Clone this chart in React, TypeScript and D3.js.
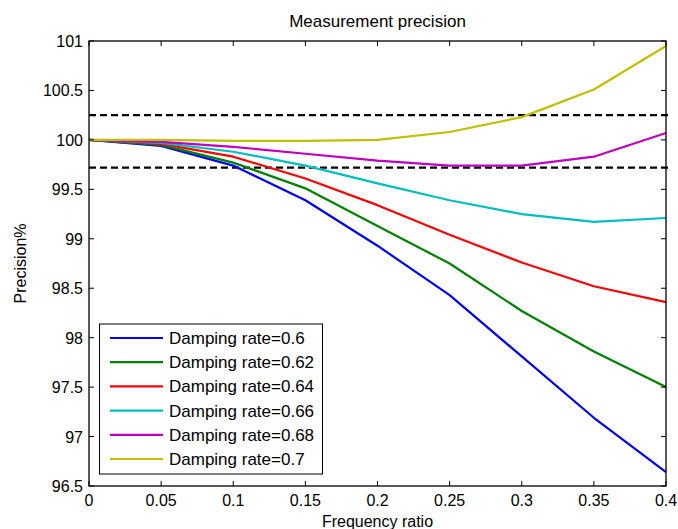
import React from "react";
import * as d3 from "d3";

// Frequency ratio samples
const freqRatio = [0, 0.05, 0.1, 0.15, 0.2, 0.25, 0.3, 0.35, 0.4];

// Precision (%) for each damping rate
const dampingLabels = [
  "Damping rate=0.6",
  "Damping rate=0.62",
  "Damping rate=0.64",
  "Damping rate=0.66",
  "Damping rate=0.68",
  "Damping rate=0.7",
];
const precision06 = [100, 99.94, 99.74, 99.39, 98.93, 98.43, 97.81, 97.19, 96.64];
const precision062 = [100, 99.95, 99.77, 99.51, 99.13, 98.75, 98.27, 97.86, 97.5];
const precision064 = [100, 99.96, 99.83, 99.61, 99.34, 99.04, 98.76, 98.52, 98.36];
const precision066 = [100, 99.97, 99.88, 99.74, 99.56, 99.39, 99.25, 99.17, 99.21];
const precision068 = [100, 99.98, 99.93, 99.86, 99.79, 99.74, 99.74, 99.83, 100.07];
const precision07 = [100, 100.0, 99.99, 99.99, 100.0, 100.08, 100.23, 100.51, 100.95];
const seriesColors = ["#0000ff", "#008000", "#ff0000", "#00bfbf", "#bf00bf", "#bfbf00"];

// Tolerance band limits (%)
const toleranceLimits = [100.25, 99.72];

const xTicks = [0, 0.05, 0.1, 0.15, 0.2, 0.25, 0.3, 0.35, 0.4];
const yTicks = [96.5, 97, 97.5, 98, 98.5, 99, 99.5, 100, 100.5, 101];

const W = 678;
const H = 529;
const left = 89;
const right = 666;
const top = 41;
const bottom = 486;
const font = "'Liberation Sans', Arial, Helvetica, sans-serif";

export default function App() {
  const x = d3.scaleLinear().domain([0, 0.4]).range([left, right]);
  const y = d3.scaleLinear().domain([96.5, 101]).range([bottom, top]);
  const series = [precision06, precision062, precision064, precision066, precision068, precision07];
  const line = d3
    .line<number>()
    .x((_, i) => x(freqRatio[i]))
    .y((v) => y(v));
  const tickLen = 5;

  const legX = 99.5;
  const legY = 324;
  const legW = 223;
  const legH = 150;
  const rowY0 = 338;
  const rowStep = 24.2;

  return (
    <svg
      width={W}
      height={H}
      style={{ position: "absolute", left: 0, top: 0, background: "#fff" }}
      fontFamily={font}
    >
      <rect x={0} y={0} width={W} height={H} fill="#fff" />
      <defs>
        <clipPath id="plotClip">
          <rect x={left} y={top} width={right - left + 6} height={bottom - top} />
        </clipPath>
      </defs>

      {/* tolerance limits */}
      {toleranceLimits.map((v, i) => (
        <line
          key={"tol" + i}
          x1={x(0)}
          x2={x(0.404)}
          y1={y(v)}
          y2={y(v)}
          stroke="#000"
          strokeWidth={2.2}
          strokeDasharray="7,4"
        />
      ))}

      {/* precision curves */}
      <g clipPath="url(#plotClip)">
        {series.map((s, i) => (
          <path
            key={"s" + i}
            d={line(s) || ""}
            fill="none"
            stroke={seriesColors[i]}
            strokeWidth={2.2}
            strokeLinejoin="round"
          />
        ))}
      </g>

      {/* axes box */}
      <rect
        x={left}
        y={top}
        width={right - left}
        height={bottom - top}
        fill="none"
        stroke="#000"
        strokeWidth={1.3}
      />

      {/* x ticks */}
      {xTicks.map((t, i) => (
        <g key={"xt" + i}>
          <line x1={x(t)} x2={x(t)} y1={bottom} y2={bottom - tickLen} stroke="#000" strokeWidth={1} />
          <line x1={x(t)} x2={x(t)} y1={top} y2={top + tickLen} stroke="#000" strokeWidth={1} />
          <text x={x(t)} y={506} fontSize={16} textAnchor="middle" fill="#000">
            {String(t)}
          </text>
        </g>
      ))}

      {/* y ticks */}
      {yTicks.map((t, i) => (
        <g key={"yt" + i}>
          <line x1={left} x2={left + tickLen} y1={y(t)} y2={y(t)} stroke="#000" strokeWidth={1} />
          <line x1={right} x2={right - tickLen} y1={y(t)} y2={y(t)} stroke="#000" strokeWidth={1} />
          <text x={83} y={y(t) + 6} fontSize={16} textAnchor="end" fill="#000">
            {String(t)}
          </text>
        </g>
      ))}

      {/* titles */}
      <text x={(left + right) / 2} y={27} fontSize={17} textAnchor="middle" fill="#000">
        Measurement precision
      </text>
      <text x={(left + right) / 2} y={527} fontSize={16} textAnchor="middle" fill="#000">
        Frequency ratio
      </text>
      <text
        transform={`translate(26, ${(top + bottom) / 2}) rotate(-90)`}
        fontSize={16}
        textAnchor="middle"
        fill="#000"
      >
        Precision%
      </text>

      {/* legend */}
      <rect x={legX} y={legY} width={legW} height={legH} fill="#fff" stroke="#000" strokeWidth={1} />
      {dampingLabels.map((lab, i) => (
        <g key={"lg" + i}>
          <line
            x1={110}
            x2={163}
            y1={rowY0 + i * rowStep}
            y2={rowY0 + i * rowStep}
            stroke={seriesColors[i]}
            strokeWidth={2.2}
          />
          <text x={169} y={rowY0 + i * rowStep + 6} fontSize={17} fill="#000">
            {lab}
          </text>
        </g>
      ))}
    </svg>
  );
}
